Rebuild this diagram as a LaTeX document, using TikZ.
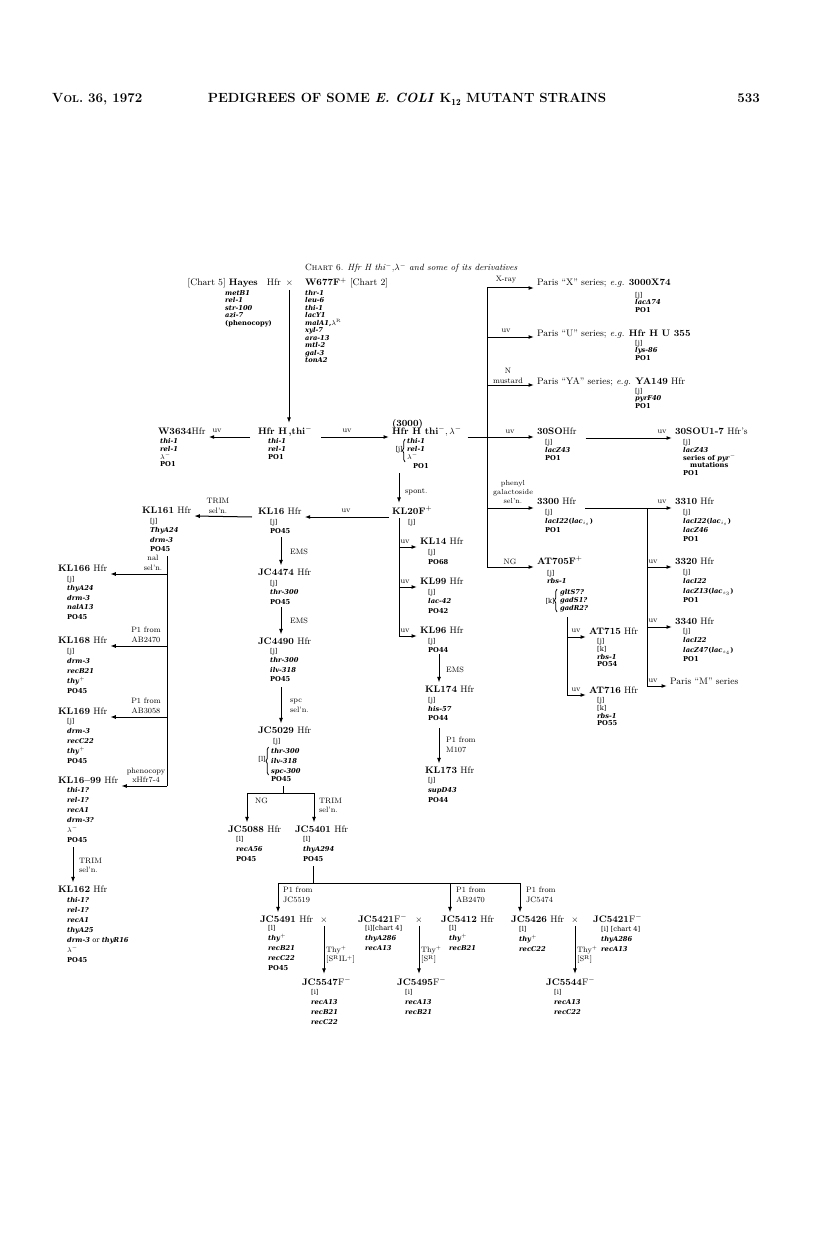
\documentclass[tikz,border=0pt]{standalone}
\usepackage{fontspec}
\newfontfamily\dvs{DejaVu Serif}
\usetikzlibrary{arrows.meta,decorations.pathreplacing}
\newcommand\hdf{\fontsize{13.3}{15}\selectfont\bfseries}
\newcommand\nmf{\fontsize{9.4}{11}\selectfont}
\newcommand\alf{\fontsize{6.7}{9}\selectfont\dvs\bfseries}
\newcommand\alA{\fontsize{6.7}{7.5}\selectfont\dvs\bfseries}
\newcommand\alB{\fontsize{6.7}{10}\selectfont\dvs\bfseries}
\newcommand\alC{\fontsize{6.7}{7.9}\selectfont\dvs\bfseries}
\newcommand\alD{\fontsize{6.7}{9.5}\selectfont\dvs\bfseries}
\newcommand\lbf{\fontsize{7.8}{9.5}\selectfont}
\newcommand\gn[1]{\textit{#1}}
\newcommand\Bj{{\mdseries[j]}}
\newcommand\Bk{{\mdseries[k]}}
\newcommand\Bl{{\mdseries[l]}}
\newcommand\Bi{{\mdseries[i]}}
\begin{document}
\begin{tikzpicture}[x=1pt,y=-1pt,
  nm/.style={anchor=base west,inner sep=0pt,outer sep=3pt,font=\nmf},
  al/.style={anchor=north west,inner sep=0pt,align=left,font=\alf},
  lb/.style={inner sep=0pt,font=\lbf},
  ln/.style={line width=1pt},
  arr/.style={line width=1pt,-{Latex[length=5.5pt,width=4pt]}},
  brc/.style={line width=0.7pt,decorate,decoration={brace,amplitude=2.5pt}}]
\fill[white] (0,0) rectangle (816,1238);
\useasboundingbox (0,0) rectangle (816,1238);

% header
\node[anchor=base west,inner sep=0pt,font=\hdf] (hdrl) at (52,103) {V{\fontsize{10}{10}\selectfont OL}. 36, 1972};
\node[anchor=base,inner sep=0pt,font=\hdf] (hdrc) at (407,103) {PEDIGREES OF SOME \textit{E. COLI} K$_{\mathbf{12}}$ MUTANT STRAINS};
\node[anchor=base east,inner sep=0pt,font=\hdf] (hdrr) at (760,103) {533};

% caption
\node[anchor=base west,inner sep=0pt,font=\fontsize{9}{10}\selectfont] (cap) at (305,271) {C\textsc{hart} 6. \textit{Hfr H thi}$^-$,$\lambda^-$ \textit{and some of its derivatives}};

% top parents
\node[nm,anchor=base east] (hayes) at (296,286) {[Chart 5] \textbf{Hayes}\hspace{9pt}Hfr\hspace{5pt}$\times$};
\node[nm] (w677) at (302,286) {\textbf{W677F}$^+$ [Chart 2]};
\node[al,font=\alA] (hayesal) at (225,290) {\gn{metB1}\\\gn{rel-1}\\\gn{str-100}\\\gn{azi-7}\\(phenocopy)};
\node[al,font=\alA] (w677al) at (305,290) {\gn{thr-1}\\\gn{leu-6}\\\gn{thi-1}\\\gn{lacY1}\\\gn{malA1},$\lambda^{\mathrm R}$\\\gn{xyl-7}\\\gn{ara-13}\\\gn{mtl-2}\\\gn{gal-3}\\\gn{tonA2}};
\coordinate (xh) at (289,290);

% row Hfr H
\node[nm] (w3634) at (155,434) {\textbf{W3634}Hfr};
\node[al,font=\alC] (w3634al) at (160,438) {\gn{thi-1}\\\gn{rel-1}\\$\lambda^-$\\PO1};
\node[nm] (hfrh) at (255,434) {\textbf{Hfr H\,,thi}$^-$};
\node[al,font=\alC] (hfrhal) at (268,438) {\gn{thi-1}\\\gn{rel-1}\\PO1};
\node[nm] (c3000) at (389,426) {\textbf{(3000)}};
\node[nm] (h3000) at (389,434) {\textbf{Hfr H thi}$^-$,\,$\lambda^-$};
\node[al,font=\alC] (h3000al) at (407,438) {\gn{thi-1}\\\gn{rel-1}\\$\lambda^-$};
\node[al,anchor=east] (h3000j) at (403,450) {\Bj};
\draw[brc] (405,462) -- (405,439);
\node[al] (h3000po) at (413,463) {PO1};
\node[lb] (luv1) at (217,431) {uv};
\node[lb] (luv2) at (347,431) {uv};

% Paris series
\node[lb] (lxr) at (506,280) {X-ray};
\node[nm] (parisX) at (534,286) {Paris ``X'' series; \textit{e.g.} \textbf{3000X74}};
\node[al,font=\alA] (parisXal) at (635,292) {\Bj\\\gn{lacΔ74}\\PO1};
\node[lb] (lu1) at (506,331) {uv};
\node[nm] (parisU) at (534,336) {Paris ``U'' series; \textit{e.g.} \textbf{Hfr H U 355}};
\node[al,font=\alA] (parisUal) at (635,340) {\Bj\\\gn{lys-86}\\PO1};
\node[lb,align=center] (lnm) at (508,376) {N\\mustard};
\node[nm] (parisYA) at (534,384) {Paris ``YA'' series; \textit{e.g.} \textbf{YA149} Hfr};
\node[al,font=\alA] (parisYAal) at (635,388) {\Bj\\\gn{pyrF40}\\PO1};

% 30SO
\node[lb] (l30a) at (510,432) {uv};
\node[nm] (s30so) at (534,434) {\textbf{30SO}Hfr};
\node[al,font=\alC] (s30soal) at (545,439) {\Bj\\\gn{lacZ43}\\PO1};
\node[lb] (l30b) at (662,432) {uv};
\node[nm] (s30sou) at (672,434) {\textbf{30SOU1-7} Hfr's};
\node[al,font=\alC] (s30soual) at (683,439) {\Bj\\\gn{lacZ43}\\series of \gn{pyr}$^-$\\\hspace*{7pt}mutations\\PO1};

% 3300 family
\node[lb,align=center,font=\fontsize{7.3}{9.3}\selectfont] (lpg) at (513,492) {phenyl\\galactoside\\sel'n.};
\node[nm] (s3300) at (534,504) {\textbf{3300} Hfr};
\node[al] (s3300al) at (545,509) {\Bj\\\gn{lacI22}(\gn{lac}$_{i_s}$)\\PO1};
\node[lb] (l33a) at (662,502) {uv};
\node[nm] (s3310) at (672,504) {\textbf{3310} Hfr};
\node[al] (s3310al) at (683,509) {\Bj\\\gn{lacI22}(\gn{lac}$_{i_s}$)\\\gn{lacZ46}\\PO1};
\node[lb] (l33b) at (653,562) {uv};
\node[nm] (s3320) at (672,564) {\textbf{3320} Hfr};
\node[al,font=\alD] (s3320al) at (683,569) {\Bj\\\gn{lacI22}\\\gn{lacZ13}(\gn{lac}$_{s_3}$)\\PO1};
\node[lb] (l33c) at (653,621) {uv};
\node[nm] (s3340) at (672,624) {\textbf{3340} Hfr};
\node[al,font=\alD] (s3340al) at (683,628) {\Bj\\\gn{lacI22}\\\gn{lacZ47}(\gn{lac}$_{s_4}$)\\PO1};
\node[lb] (l33d) at (653,681) {uv};
\node[nm] (parisM) at (667,684) {Paris ``M'' series};

% AT705 family
\node[lb] (lng) at (510,562) {NG};
\node[nm] (at705) at (534,564) {\textbf{AT705F}$^+$};
\node[al,font=\alC] (at705al) at (547,570) {\Bj\\\gn{rbs-1}};
\node[al,font=\alC] (at705b) at (560,589) {\gn{gltS7?}\\\gn{gadS1?}\\\gn{gadR2?}};
\draw[brc] (557,612) -- (557,589);
\node[al,anchor=east] (at705k) at (555,601) {\Bk};
\node[lb] (la1) at (576,631) {uv};
\node[lb] (la2) at (576,690) {uv};
\node[nm] (at715) at (586,634) {\textbf{AT715} Hfr};
\node[al,font=\alC] (at715al) at (597,638) {\Bj\\\Bk\\\gn{rbs-1}\\PO54};
\node[nm] (at716) at (586,693) {\textbf{AT716} Hfr};
\node[al,font=\alC] (at716al) at (597,697) {\Bj\\\Bk\\\gn{rbs-1}\\PO55};

% KL20 family
\node[lb,anchor=west] (lsp) at (405,492) {spont.};
\node[nm] (kl20) at (389,514) {\textbf{KL20F}$^+$};
\node[al] (kl20al) at (408,519) {\Bj};
\node[lb] (lkl16) at (346,511) {uv};
\node[lb] (lk1) at (405,542) {uv};
\node[lb] (lk2) at (405,582) {uv};
\node[lb] (lk3) at (405,631) {uv};
\node[nm] (kl14) at (417,544) {\textbf{KL14} Hfr};
\node[al,font=\alB] (kl14al) at (428,549) {\Bj\\PO68};
\node[nm] (kl99) at (417,584) {\textbf{KL99} Hfr};
\node[al,font=\alD] (kl99al) at (428,589) {\Bj\\\gn{lac-42}\\PO42};
\node[nm] (kl96) at (417,633) {\textbf{KL96} Hfr};
\node[al,font=\alD] (kl96al) at (428,638) {\Bj\\PO44};
\node[lb,anchor=west] (lems3) at (446,670) {EMS};
\node[nm] (kl174) at (422,692) {\textbf{KL174} Hfr};
\node[al] (kl174al) at (428,697) {\Bj\\\gn{his-57}\\PO44};
\node[lb,anchor=west,align=left] (lm107) at (446,745) {P1 from\\M107};
\node[nm] (kl173) at (422,773) {\textbf{KL173} Hfr};
\node[al,font=\alB] (kl173al) at (428,777) {\Bj\\\gn{supD43}\\PO44};

% KL16 / JC column
\node[nm] (kl16) at (255,514) {\textbf{KL16} Hfr};
\node[al,font=\alD] (kl16al) at (270,519) {\Bj\\PO45};
\node[lb,align=center] (ltrim1) at (218,506) {TRIM\\sel'n.};
\node[lb,anchor=west] (lems1) at (290,552) {EMS};
\node[nm] (jc4474) at (255,575) {\textbf{JC4474} Hfr};
\node[al,font=\alD] (jc4474al) at (270,580) {\Bj\\\gn{thr-300}\\PO45};
\node[lb,anchor=west] (lems2) at (290,621) {EMS};
\node[nm] (jc4490) at (255,644) {\textbf{JC4490} Hfr};
\node[al,font=\alD] (jc4490al) at (270,648) {\Bj\\\gn{thr-300}\\\gn{ilv-318}\\PO45};
\node[lb,anchor=west,align=left] (lspc) at (290,706) {spc\\sel'n.};
\node[nm] (jc5029) at (255,733) {\textbf{JC5029} Hfr};
\node[al] (jc5029j) at (273,738) {\Bj};
\node[al,font=\alB] (jc5029al) at (271,748) {\gn{thr-300}\\\gn{ilv-318}\\\gn{spc-300}};
\draw[brc] (268.5,775) -- (268.5,747);
\node[al,anchor=east] (jc5029l) at (266,759) {\Bl};
\node[al] (jc5029po) at (271,776) {PO45};
\node[lb,anchor=west] (lng2) at (255,801) {NG};
\node[lb,anchor=west,align=left] (ltrim2) at (319,805.5) {TRIM\\sel'n.};
\node[nm] (jc5088) at (225,832) {\textbf{JC5088} Hfr};
\node[al,font=\alB] (jc5088al) at (236,836) {\Bl\\\gn{recA56}\\PO45};
\node[nm] (jc5401) at (292,832) {\textbf{JC5401} Hfr};
\node[al,font=\alB] (jc5401al) at (303,836) {\Bl\\\gn{thyA294}\\PO45};
\node[lb,anchor=west,align=left] (lp1) at (283,895) {P1 from\\JC5519};
\node[lb,anchor=west,align=left] (lp2) at (456,895) {P1 from\\AB2470};
\node[lb,anchor=west,align=left] (lp3) at (526,895) {P1 from\\JC5474};

% bottom row
\node[nm] (jc5491) at (257,922) {\textbf{JC5491} Hfr};
\node[al,font=\alB] (jc5491al) at (268,925) {\Bl\\\gn{thy}$^+$\\\gn{recB21}\\\gn{recC22}\\PO45};
\node[nm,anchor=base] (x1) at (324,922) {$\times$};
\node[lb,anchor=west,align=left] (lt1) at (326,955) {Thy$^+$\\{}[S$^{\mathrm R}$IL$^+$]};
\node[nm] (jc5547) at (299,985) {\textbf{JC5547}F$^-$};
\node[al,font=\alB] (jc5547al) at (311,989) {\Bi\\\gn{recA13}\\\gn{recB21}\\\gn{recC22}};
\node[nm] (jc5421a) at (355,922) {\textbf{JC5421}F$^-$};
\node[al,font=\alB] (jc5421aal) at (365,925) {{\mdseries[i][chart 4]}\\\gn{thyA286}\\\gn{recA13}};
\node[nm,anchor=base] (x2) at (419,922) {$\times$};
\node[lb,anchor=west,align=left] (lt2) at (421,955) {Thy$^+$\\{}[S$^{\mathrm R}$]};
\node[nm] (jc5495) at (394,985) {\textbf{JC5495}F$^-$};
\node[al,font=\alB] (jc5495al) at (405,989) {\Bi\\\gn{recA13}\\\gn{recB21}};
\node[nm] (jc5412) at (438,922) {\textbf{JC5412} Hfr};
\node[al,font=\alB] (jc5412al) at (449,925) {\Bl\\\gn{thy}$^+$\\\gn{recB21}};
\node[nm] (jc5426) at (508,922) {\textbf{JC5426} Hfr};
\node[al,font=\alB] (jc5426al) at (519,926) {\Bl\\\gn{thy}$^+$\\\gn{recC22}};
\node[nm,anchor=base] (x3) at (575,922) {$\times$};
\node[lb,anchor=west,align=left] (lt3) at (577,955) {Thy$^+$\\{}[S$^{\mathrm R}$]};
\node[nm] (jc5421b) at (590,922) {\textbf{JC5421}F$^-$};
\node[al,font=\alB] (jc5421bal) at (601,926) {{\mdseries[i] [chart 4]}\\\gn{thyA286}\\\gn{recA13}};
\node[nm] (jc5544) at (543,985) {\textbf{JC5544}F$^-$};
\node[al,font=\alB] (jc5544al) at (554,989) {\Bi\\\gn{recA13}\\\gn{recC22}};

% left column
\node[nm] (kl161) at (139,513) {\textbf{KL161} Hfr};
\node[al,font=\alD] (kl161al) at (150,518) {\Bj\\\gn{ThyA24}\\\gn{drm-3}\\PO45};
\node[lb,align=center] (lnal) at (153,563) {nal\\sel'n.};
\node[nm] (kl166) at (55,571) {\textbf{KL166} Hfr};
\node[al,font=\alD] (kl166al) at (67,576) {\Bj\\\gn{thyA24}\\\gn{drm-3}\\\gn{nalA13}\\PO45};
\node[lb,align=center] (lab1) at (146,635) {P1 from\\AB2470};
\node[nm] (kl168) at (55,643) {\textbf{KL168} Hfr};
\node[al,font=\alB] (kl168al) at (67,648) {\Bj\\\gn{drm-3}\\\gn{recB21}\\\gn{thy}$^+$\\PO45};
\node[lb,align=center] (lab2) at (146,706) {P1 from\\AB3058};
\node[nm] (kl169) at (55,714) {\textbf{KL169} Hfr};
\node[al,font=\alB] (kl169al) at (67,718) {\Bj\\\gn{drm-3}\\\gn{recC22}\\\gn{thy}$^+$\\PO45};
\node[lb,align=center] (lphe) at (146,775.5) {phenocopy\\xHfr7-4};
\node[nm] (kl1699) at (55,783) {\textbf{KL16--99} Hfr};
\node[al,font=\alB] (kl1699al) at (67,787) {\gn{thi-1?}\\\gn{rel-1?}\\\gn{recA1}\\\gn{drm-3?}\\$\lambda^-$\\PO45};
\node[lb,anchor=west,align=left] (ltrim3) at (79,865.5) {TRIM\\sel'n.};
\node[nm] (kl162) at (55,892) {\textbf{KL162} Hfr};
\node[al,font=\alB] (kl162al) at (67,897) {\gn{thi-1?}\\\gn{rel-1?}\\\gn{recA1}\\\gn{thyA25}\\\gn{drm-3} {\mdseries or} \gn{thyR16}\\$\lambda^-$\\PO45};

% ---------- connectors ----------
\draw[arr] (xh) -- (xh |- hfrh.north);
\draw[arr] ([xshift=-5pt,yshift=-3pt]hfrh.base west) -- ([yshift=-3pt]w3634.base east);
\draw[arr] ([xshift=6pt,yshift=-3pt]hfrh.base east) -- ([yshift=-3pt]h3000.base west);
\draw[arr] ([xshift=3pt,yshift=-3pt]h3000.base east) -- ([yshift=-3pt]s30so.base west);
\draw[arr] ([xshift=6pt,yshift=-4pt]s30so.base east) -- ([yshift=-4pt]s30sou.base west);
% trunk
\coordinate (bX) at (487,288);
\coordinate (bU) at (487,337);
\coordinate (bYA) at (487,385);
\coordinate (bPG) at (487,508);
\coordinate (bNG) at (487,567);
\draw[ln] (bX) -- (bNG);
\draw[arr] (bX) -- (bX -| parisX.west);
\draw[arr] (bU) -- (bU -| parisU.west);
\draw[arr] (bYA) -- (bYA -| parisYA.west);
\draw[arr] (bPG) -- (bPG -| s3300.west);
\draw[arr] (bNG) -- (bNG -| at705.west);
% 3300 branch
\draw[arr] ([xshift=6pt,yshift=-4pt]s3300.base east) -- ([yshift=-4pt]s3310.base west);
\coordinate (c33) at (647,508);
\coordinate (c3320) at (647,567);
\coordinate (c3340) at (647,627);
\coordinate (cM) at (647,686);
\draw[ln] (c33) -- (cM);
\draw[arr] (c3320) -- (c3320 -| s3320.west);
\draw[arr] (c3340) -- (c3340 -| s3340.west);
\draw[arr] (cM) -- (cM -| parisM.west);
% AT705 branch
\coordinate (a7t) at (567,617);
\coordinate (a7m) at (567,637);
\coordinate (a7b) at (567,695);
\draw[ln] (a7t) -- (a7b);
\draw[arr] (a7m) -- (a7m -| at715.west);
\draw[arr] (a7b) -- (a7b -| at716.west);
% KL20
\coordinate (sp) at (399,473);
\draw[arr] (sp) -- (sp |- kl20.north);
\draw[arr] ([yshift=-3pt]kl20.base west) -- ([yshift=-3pt]kl16.base east);
\draw[arr] ([xshift=-3pt,yshift=-3pt]kl16.base west) -- ([yshift=-3pt]kl161.base east);
\coordinate (k20t) at (399,518);
\coordinate (k20a) at (399,547);
\coordinate (k20b) at (399,587);
\coordinate (k20c) at (399,636);
\draw[ln] (k20t) -- (k20c);
\draw[arr] (k20a) -- (k20a -| kl14.west);
\draw[arr] (k20b) -- (k20b -| kl99.west);
\draw[arr] (k20c) -- (k20c -| kl96.west);
\coordinate (em3) at (439,654);
\draw[arr] (em3) -- (em3 |- kl174.north);
\coordinate (m107) at (439,728);
\draw[arr] (m107) -- (m107 |- kl173.north);
% JC column
\coordinate (e1) at (281,537);
\draw[arr] (e1) -- (e1 |- jc4474.north);
\coordinate (e2) at (281,607);
\draw[arr] (e2) -- (e2 |- jc4490.north);
\coordinate (e3) at (281,687);
\draw[arr] (e3) -- (e3 |- jc5029.north);
\coordinate (sp0) at (283,786);
\coordinate (sp1) at (283,793);
\coordinate (spl) at (247,793);
\coordinate (spr) at (314,793);
\draw[ln] (sp0) -- (sp1);
\draw[ln] (spl) -- (spr);
\draw[arr] (spl) -- (spl |- jc5088.north);
\draw[arr] (spr) -- (spr |- jc5401.north);
\coordinate (bb0) at (313,866);
\coordinate (bb1) at (313,883);
\coordinate (bbl) at (278,883);
\coordinate (bbm) at (450,883);
\coordinate (bbr) at (520,883);
\draw[ln] (bb0) -- (bb1);
\draw[ln] (bbl) -- (bbr);
\draw[arr] (bbl) -- (bbl |- jc5491.north);
\draw[arr] (bbm) -- (bbm |- jc5412.north);
\draw[arr] (bbr) -- (bbr |- jc5426.north);
\draw[arr] (x1.south) -- (x1.south |- jc5547.north);
\draw[arr] (x2.south) -- (x2.south |- jc5495.north);
\draw[arr] (x3.south) -- (x3.south |- jc5544.north);
% left column
\coordinate (v0) at (167,556);
\coordinate (v1) at (167,574);
\coordinate (v2) at (167,646);
\coordinate (v3) at (167,717);
\coordinate (v4) at (167,786);
\draw[ln] (v0) -- (v4);
\draw[arr] (v1) -- (v1 -| kl166.east);
\draw[arr] (v2) -- (v2 -| kl168.east);
\draw[arr] (v3) -- (v3 -| kl169.east);
\draw[arr] (v4) -- (v4 -| kl1699.east);
\coordinate (t3) at (73,847);
\draw[arr] (t3) -- (t3 |- kl162.north);
\end{tikzpicture}
\end{document}
